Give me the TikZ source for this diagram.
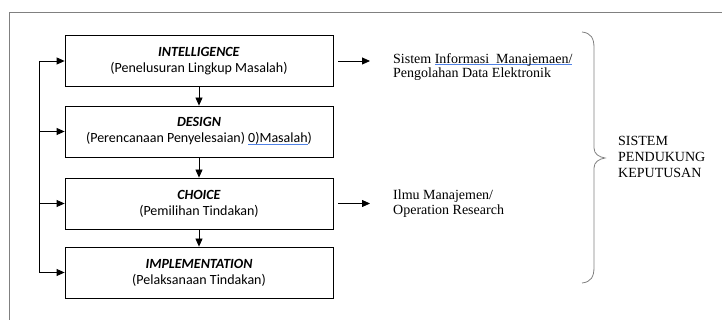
\documentclass[tikz,border=0pt]{standalone}
\usepackage{fontspec}
\setmainfont{Liberation Serif}
\newfontfamily\calibri{Carlito}
\usepackage{xcolor}
\usetikzlibrary{arrows.meta, positioning}
\definecolor{spellblue}{RGB}{80,130,230}
\newlength\spellw
\newcommand{\spellmark}[1]{\settowidth{\spellw}{#1}\rlap{\textcolor{spellblue}{\rule[-1.6pt]{\spellw}{0.8pt}}}#1}

\begin{document}
\begin{tikzpicture}[x=1pt, y=-1pt,
    stage/.style={draw, line width=0.8pt, minimum width=268pt, minimum height=51pt,
      align=center, font=\calibri\fontsize{14}{16}\selectfont},
    arr/.style={-{Triangle[length=8pt, width=7pt]}, line width=0.8pt},
    note/.style={anchor=west, align=left, inner sep=0pt, font=\fontsize{14}{13.5}\selectfont}]
    \useasboundingbox (0,0) rectangle (722,320);

    % Outer frame
    \draw[gray, line width=0.8pt] (9,320) -- (9,12) -- (722,12);

    % Stages
    \node[stage] (intel) at (199,61) {\textbf{\textit{INTELLIGENCE}}\\(Penelusuran Lingkup Masalah)};
    \node[stage] (design) at (199,131.5) {\textbf{\textit{DESIGN}}\\(Perencanaan Penyelesaian) \spellmark{0)Masalah})};
    \node[stage] (choice) at (199,203.5) {\textbf{\textit{CHOICE}}\\(Pemilihan Tindakan)};
    \node[stage] (impl) at (199,272.5) {\textbf{\textit{IMPLEMENTATION}}\\(Pelaksanaan Tindakan)};

    % Flow down
    \foreach \a/\b in {intel/design, design/choice, choice/impl} {
        \draw[arr] (\a) -- (\b);
    }

    % Feedback loop
    \coordinate (loop) at (39,0);
    \draw[line width=0.8pt] (intel.west -| loop) -- (impl.west -| loop);
    \foreach \s in {intel, design, choice, impl} {
        \draw[arr] (\s.west -| loop) -- (\s.west);
    }

    % Supporting fields
    \node[note] (sim) at (393,67) {Sistem \spellmark{Informasi~ Manajemaen/}\\Pengolahan Data Elektronik};
    \node[note, font=\fontsize{14}{15}\selectfont] (ilmu) at (393,204) {Ilmu Manajemen/\\Operation Research};
    \draw[arr, shorten <=5pt, shorten >=23pt] (intel.east) -- (intel.east -| sim.west);
    \draw[arr, shorten <=5pt, shorten >=23pt] (choice.east) -- (choice.east -| ilmu.west);

    % Brace
    \draw[gray, line width=0.8pt] (582,32) .. controls (591,33) and (594,38) .. (594,48)
        -- (594,148) .. controls (594,154) and (599,157) .. (605,158)
        .. controls (599,159) and (594,162) .. (594,168)
        -- (594,267) .. controls (594,277) and (591,282) .. (582,283);
    \node[note, font=\fontsize{14}{16}\selectfont] (spk) at (618,157) {SISTEM\\PENDUKUNG\\KEPUTUSAN};
\end{tikzpicture}
\end{document}
